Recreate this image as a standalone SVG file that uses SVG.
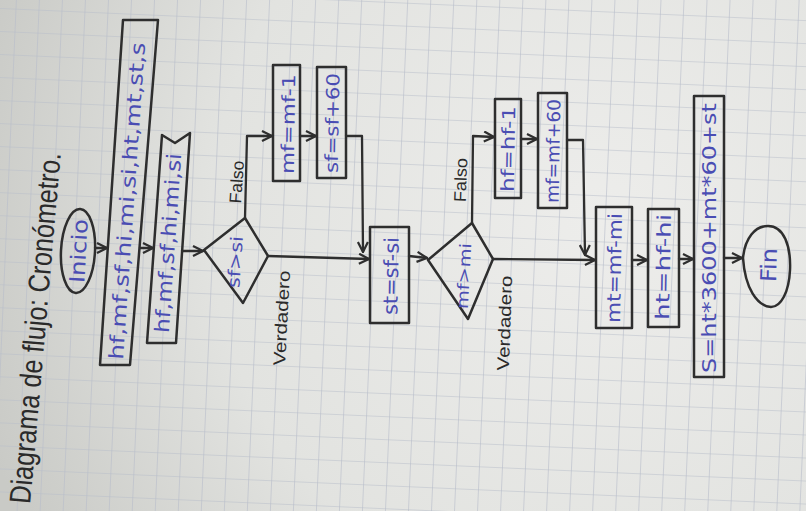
<svg xmlns="http://www.w3.org/2000/svg" width="806" height="511" viewBox="0 0 806 511">
<defs>
<radialGradient id="bg" cx="600" cy="220" r="650" gradientUnits="userSpaceOnUse">
<stop offset="0" stop-color="#ededeb"/>
<stop offset="0.6" stop-color="#e2e3e0"/>
<stop offset="1" stop-color="#c9cac6"/>
</radialGradient>
<pattern id="grid" width="23" height="23" patternUnits="userSpaceOnUse" x="5" y="7" patternTransform="rotate(2.5 500 260)">
<path d="M0,0 H23 M0,0 V23" fill="none" stroke="#b7bdc9" stroke-width="1.2"/>
</pattern>
<marker id="ah" viewBox="0 0 12 12" refX="11" refY="6" markerWidth="12" markerHeight="12" markerUnits="userSpaceOnUse" orient="auto">
<path d="M1,1 L11,6 L1,11" fill="none" stroke="#2e2e2e" stroke-width="2.2"/>
</marker>
</defs>
<style>
.box{fill:none;stroke:#2e2e2e;stroke-width:2.5;stroke-linejoin:round}
.con{fill:none;stroke:#2e2e2e;stroke-width:2.3;stroke-linejoin:round;stroke-linecap:round;marker-end:url(#ah)}
.blue{fill:#4a4db3;font-family:"DejaVu Sans","Liberation Sans",sans-serif;text-anchor:middle;dominant-baseline:central}
.blk{fill:#2a2a2a;font-family:"Liberation Sans","DejaVu Sans",sans-serif;text-anchor:middle;dominant-baseline:central}
</style>
<rect width="806" height="511" fill="url(#bg)"/>
<rect x="-50" y="-50" width="906" height="611" fill="url(#grid)"/>

<g id="title">
<text class="blk" font-size="30" transform="translate(35,328) rotate(-85)" textLength="352" lengthAdjust="spacingAndGlyphs">Diagrama de flujo: Cronómetro.</text>
</g>

<g id="inicio">
<ellipse cx="78" cy="251" rx="17" ry="42" class="box" transform="rotate(3 78 251)"/>
<text class="blue" font-size="21" transform="translate(79,251) rotate(-87)" textLength="64" lengthAdjust="spacingAndGlyphs">Inicio</text>
</g>

<g id="declaracion">
<polygon points="100,365 130,365 158,20 123,20" class="box"/>
<text class="blue" font-size="20" transform="translate(127,201) rotate(-86)" textLength="318" lengthAdjust="spacingAndGlyphs">hf,mf,sf,hi,mi,si,ht,mt,st,s</text>
</g>

<g id="lectura">
<polygon points="147,343 176,343 190,133 175,143 162,135" class="box"/>
<text class="blue" font-size="20" transform="translate(168,243) rotate(-86)" textLength="180" lengthAdjust="spacingAndGlyphs">hf,mf,sf,hi,mi,si</text>
</g>

<g id="decision1">
<polygon points="204,250 245,218 268,256 243,303" class="box"/>
<text class="blue" font-size="17" transform="translate(235,262) rotate(-86)" textLength="52" lengthAdjust="spacingAndGlyphs">sf&gt;si</text>
</g>

<g id="mf-menos-1">
<rect x="273" y="65" width="27" height="116" class="box"/>
<text class="blue" font-size="18" transform="translate(288,124) rotate(-89)" textLength="100" lengthAdjust="spacingAndGlyphs">mf=mf-1</text>
</g>

<g id="sf-mas-60">
<rect x="317" y="67" width="29" height="111" class="box"/>
<text class="blue" font-size="18" transform="translate(332,123) rotate(-89)" textLength="100" lengthAdjust="spacingAndGlyphs">sf=sf+60</text>
</g>

<g id="st-calc">
<rect x="370" y="227" width="39" height="96" class="box"/>
<text class="blue" font-size="20" transform="translate(391,276) rotate(-89)" textLength="78" lengthAdjust="spacingAndGlyphs">st=sf-si</text>
</g>

<g id="decision2">
<polygon points="428,260 472,223 493,259 468,319" class="box"/>
<text class="blue" font-size="16" transform="translate(464,276) rotate(-87)" textLength="66" lengthAdjust="spacingAndGlyphs">mf&gt;mi</text>
</g>

<g id="hf-menos-1">
<rect x="495" y="99" width="26" height="99" class="box"/>
<text class="blue" font-size="18" transform="translate(508,149) rotate(-89)" textLength="86" lengthAdjust="spacingAndGlyphs">hf=hf-1</text>
</g>

<g id="mf-mas-60">
<rect x="538" y="93" width="29" height="115" class="box"/>
<text class="blue" font-size="18" transform="translate(553,151) rotate(-89)" textLength="104" lengthAdjust="spacingAndGlyphs">mf=mf+60</text>
</g>

<g id="mt-calc">
<rect x="596" y="207" width="36" height="121" class="box"/>
<text class="blue" font-size="19" transform="translate(614,268) rotate(-89)" textLength="110" lengthAdjust="spacingAndGlyphs">mt=mf-mi</text>
</g>

<g id="ht-calc">
<rect x="648" y="209" width="31" height="118" class="box"/>
<text class="blue" font-size="19" transform="translate(663,267) rotate(-89)" textLength="106" lengthAdjust="spacingAndGlyphs">ht=hf-hi</text>
</g>

<g id="s-calc">
<rect x="694" y="96" width="30" height="281" class="box"/>
<text class="blue" font-size="19" transform="translate(709,238) rotate(-90)" textLength="270" lengthAdjust="spacingAndGlyphs">S=ht*3600+mt*60+st</text>
</g>

<g id="fin">
<path d="M743,258 C745,238 755,226 768,226 C784,226 791,246 790,270 C789,292 781,307 771,307 C757,306 745,288 743,258 Z" class="box"/>
<text class="blue" font-size="22" transform="translate(769,265) rotate(-88)" textLength="34" lengthAdjust="spacingAndGlyphs">Fin</text>
</g>

<g id="labels">
<text class="blk" font-size="17" transform="translate(237,182) rotate(-86)" textLength="43" lengthAdjust="spacingAndGlyphs">Falso</text>
<text class="blk" font-size="17" transform="translate(282,318) rotate(-87)" textLength="95" lengthAdjust="spacingAndGlyphs">Verdadero</text>
<text class="blk" font-size="17" transform="translate(461,180) rotate(-88)" textLength="44" lengthAdjust="spacingAndGlyphs">Falso</text>
<text class="blk" font-size="17" transform="translate(505,323) rotate(-88)" textLength="95" lengthAdjust="spacingAndGlyphs">Verdadero</text>
</g>

<g id="connectors">
<path class="con" d="M95,248 L107,248"/>
<path class="con" d="M140,248 L153,248"/>
<path class="con" d="M182,251 L203,251"/>
<path class="con" d="M245,218 L247,136 L272,136"/>
<path class="con" d="M300,136 L316,136"/>
<path class="con" d="M346,136 L362,136 L363,252"/>
<path class="con" d="M268,256 L369,259"/>
<path class="con" d="M409,256 L427,258"/>
<path class="con" d="M472,223 L473,136 L494,137"/>
<path class="con" d="M521,139 L537,139"/>
<path class="con" d="M567,140 L583,140 L585,255"/>
<path class="con" d="M493,259 L595,260"/>
<path class="con" d="M632,260 L647,260"/>
<path class="con" d="M679,259 L693,259"/>
<path class="con" d="M724,258 L742,258"/>
</g>
</svg>
